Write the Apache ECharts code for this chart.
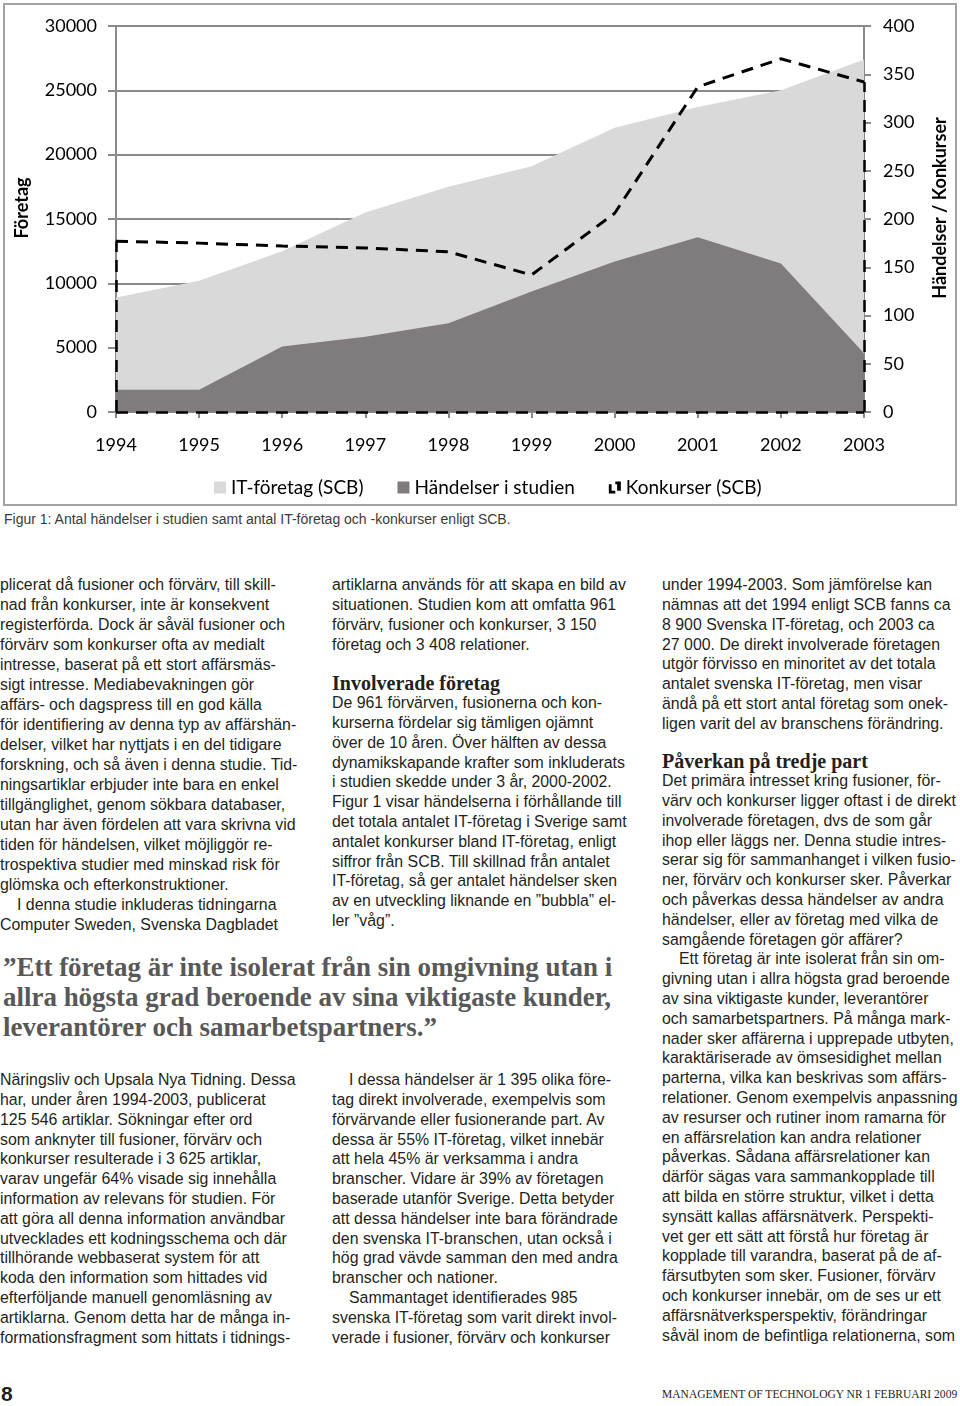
<!DOCTYPE html>
<html><head><meta charset="utf-8">
<script src="https://cdn.jsdelivr.net/npm/echarts@6/dist/echarts.min.js"></script>
<style>
html,body{margin:0;padding:0;background:#fff;}
body{width:960px;height:1406px;position:relative;overflow:hidden;}
#frame{position:absolute;left:3px;top:3px;width:954px;height:503px;box-sizing:border-box;border:2px solid #a3a3a3;}
#chart{position:absolute;left:0;top:0;width:960px;height:510px;}
.ln{position:absolute;white-space:pre;}
</style></head>
<body>
<div id="frame"></div>
<div id="chart"></div>
<script>
// ---- chart data ----
const years = ['1994','1995','1996','1997','1998','1999','2000','2001','2002','2003'];
const itForetag = [8900, 10200, 12500, 15500, 17500, 19100, 22100, 23700, 25000, 27400];
const handelser = [23, 23, 68, 78, 92, 125, 156, 181, 154, 61];
const konkurser = [177, 175, 172, 170, 166, 142, 206, 337, 366, 342];
const seriesNames = ['IT-företag (SCB)', 'Händelser i studien', 'Konkurser (SCB)'];
const leftAxisName = 'Företag';
const rightAxisName = 'Händelser / Konkurser';

// ---- page text ----
const caption = 'Figur 1: Antal händelser i studien samt antal IT-företag och -konkurser enligt SCB.';
const col1a = [
'plicerat då fusioner och förvärv, till skill-',
'nad från konkurser, inte är konsekvent',
'registerförda. Dock är såväl fusioner och',
'förvärv som konkurser ofta av medialt',
'intresse, baserat på ett stort affärsmäs-',
'sigt intresse. Mediabevakningen gör',
'affärs- och dagspress till en god källa',
'för identifiering av denna typ av affärshän-',
'delser, vilket har nyttjats i en del tidigare',
'forskning, och så även i denna studie. Tid-',
'ningsartiklar erbjuder inte bara en enkel',
'tillgänglighet, genom sökbara databaser,',
'utan har även fördelen att vara skrivna vid',
'tiden för händelsen, vilket möjliggör re-',
'trospektiva studier med minskad risk för',
'glömska och efterkonstruktioner.',
'\tI denna studie inkluderas tidningarna',
'Computer Sweden, Svenska Dagbladet'];
const col2a = [
'artiklarna används för att skapa en bild av',
'situationen. Studien kom att omfatta 961',
'förvärv, fusioner och konkurser, 3 150',
'företag och 3 408 relationer.'];
const head2 = 'Involverade företag';
const col2b = [
'De 961 förvärven, fusionerna och kon-',
'kurserna fördelar sig tämligen ojämnt',
'över de 10 åren. Över hälften av dessa',
'dynamikskapande krafter som inkluderats',
'i studien skedde under 3 år, 2000-2002.',
'Figur 1 visar händelserna i förhållande till',
'det totala antalet IT-företag i Sverige samt',
'antalet konkurser bland IT-företag, enligt',
'siffror från SCB. Till skillnad från antalet',
'IT-företag, så ger antalet händelser sken',
'av en utveckling liknande en ”bubbla” el-',
'ler ”våg”.'];
const col3a = [
'under 1994-2003. Som jämförelse kan',
'nämnas att det 1994 enligt SCB fanns ca',
'8 900 Svenska IT-företag, och 2003 ca',
'27 000. De direkt involverade företagen',
'utgör förvisso en minoritet av det totala',
'antalet svenska IT-företag, men visar',
'ändå på ett stort antal företag som onek-',
'ligen varit del av branschens förändring.'];
const head3 = 'Påverkan på tredje part';
const col3b = [
'Det primära intresset kring fusioner, för-',
'värv och konkurser ligger oftast i de direkt',
'involverade företagen, dvs de som går',
'ihop eller läggs ner. Denna studie intres-',
'serar sig för sammanhanget i vilken fusio-',
'ner, förvärv och konkurser sker. Påverkar',
'och påverkas dessa händelser av andra',
'händelser, eller av företag med vilka de',
'samgående företagen gör affärer?',
'\tEtt företag är inte isolerat från sin om-',
'givning utan i allra högsta grad beroende',
'av sina viktigaste kunder, leverantörer',
'och samarbetspartners. På många mark-',
'nader sker affärerna i upprepade utbyten,',
'karaktäriserade av ömsesidighet mellan',
'parterna, vilka kan beskrivas som affärs-',
'relationer. Genom exempelvis anpassning',
'av resurser och rutiner inom ramarna för',
'en affärsrelation kan andra relationer',
'påverkas. Sådana affärsrelationer kan',
'därför sägas vara sammankopplade till',
'att bilda en större struktur, vilket i detta',
'synsätt kallas affärsnätverk. Perspekti-',
'vet ger ett sätt att förstå hur företag är',
'kopplade till varandra, baserat på de af-',
'färsutbyten som sker. Fusioner, förvärv',
'och konkurser innebär, om de ses ur ett',
'affärsnätverksperspektiv, förändringar',
'såväl inom de befintliga relationerna, som'];
const quote = [
'”Ett företag är inte isolerat från sin omgivning utan i',
'allra högsta grad beroende av sina viktigaste kunder,',
'leverantörer och samarbetspartners.”'];
const col1b = [
'Näringsliv och Upsala Nya Tidning. Dessa',
'har, under åren 1994-2003, publicerat',
'125 546 artiklar. Sökningar efter ord',
'som anknyter till fusioner, förvärv och',
'konkurser resulterade i 3 625 artiklar,',
'varav ungefär 64% visade sig innehålla',
'information av relevans för studien. För',
'att göra all denna information användbar',
'utvecklades ett kodningsschema och där',
'tillhörande webbaserat system för att',
'koda den information som hittades vid',
'efterföljande manuell genomläsning av',
'artiklarna. Genom detta har de många in-',
'formationsfragment som hittats i tidnings-'];
const col2c = [
'\tI dessa händelser är 1 395 olika före-',
'tag direkt involverade, exempelvis som',
'förvärvande eller fusionerande part. Av',
'dessa är 55% IT-företag, vilket innebär',
'att hela 45% är verksamma i andra',
'branscher. Vidare är 39% av företagen',
'baserade utanför Sverige. Detta betyder',
'att dessa händelser inte bara förändrade',
'den svenska IT-branschen, utan också i',
'hög grad vävde samman den med andra',
'branscher och nationer.',
'\tSammantaget identifierades 985',
'svenska IT-företag som varit direkt invol-',
'verade i fusioner, förvärv och konkurser'];
const pageNo = '8';
const footer = 'MANAGEMENT OF TECHNOLOGY NR 1 FEBRUARI 2009';

// ---- text layout helpers ----
const mctx = document.createElement('canvas').getContext('2d');
function fitSize(text, family, weight, target){
  mctx.font = weight + ' 100px ' + family;
  return 100 * target / mctx.measureText(text).width;
}
const SANS = '"Liberation Sans", Arial, sans-serif';
const SERIF = '"Liberation Serif", "Times New Roman", serif';
const bodySize = fitSize('utan har även fördelen att vara skrivna vid', SANS, 'normal', 296);
const headSize = fitSize('Påverkan på tredje part', SERIF, 'bold', 206);
const quoteSize = fitSize(quote[0], SERIF, 'bold', 610);
const capSize = fitSize(caption, SANS, 'normal', 508);
const LH = 19.8;

function addLine(text, x, yc, lh, size, family, weight, color, extra){
  const d = document.createElement('div');
  d.className = 'ln';
  let indent = 0;
  if (text.startsWith('\t')) { indent = 17; text = text.slice(1); }
  d.textContent = text;
  d.style.left = (x + indent) + 'px';
  d.style.top = (yc - lh/2 - 1) + 'px';
  d.style.height = lh + 'px';
  d.style.lineHeight = lh + 'px';
  d.style.fontSize = size + 'px';
  d.style.fontFamily = family;
  d.style.fontWeight = weight;
  d.style.color = color;
  if (extra) Object.assign(d.style, extra);
  document.body.appendChild(d);
  return d;
}
function addBlock(lines, x, y0, lh){
  lines.forEach((t, i) => addLine(t, x, y0 + i*lh, lh, bodySize, SANS, 'normal', '#231f20'));
}
addLine(caption, 4, 520, 16, capSize, SANS, 'normal', '#3a3a3a');
addBlock(col1a, 0, 586, 20);
addBlock(col2a, 332, 586, LH);
addLine(head2, 332, 684, 22, headSize, SERIF, 'bold', '#231f20');
addBlock(col2b, 332, 704, LH);
addBlock(col3a, 662, 586, LH);
addLine(head3, 662, 762, 22, headSize, SERIF, 'bold', '#231f20');
addBlock(col3b, 662, 782, LH);
quote.forEach((t, i) => addLine(t, 3, 968 + i*30, 30, quoteSize, SERIF, 'bold', '#585858'));
addBlock(col1b, 0, 1081, LH);
addBlock(col2c, 332, 1081, LH);
addLine(pageNo, 1, 1395, 22, 21, '"Liberation Sans Narrow", "Liberation Sans", sans-serif', 'bold', '#231f20');
(function(){
  const fs = 11.5;
  mctx.font = 'normal ' + fs + 'px ' + SERIF;
  const w = mctx.measureText(footer).width;
  const ls = (296 - w) / (footer.length - 1);
  addLine(footer, 662, 1395, 16, fs, SERIF, 'normal', '#231f20', {letterSpacing: ls + 'px'});
})();

// ---- chart ----
const chart = echarts.init(document.getElementById('chart'), null, {renderer: 'canvas'});
const FONT = 'Lato';
const GRAY = '#8a8a8a';
const dash = [12, 8];
const last = years.length - 1;
chart.setOption({
  animation: false,
  backgroundColor: 'transparent',
  grid: {left: 116, right: 96, top: 26, bottom: 98, containLabel: false},
  legend: {
    left: 209, top: 473, itemWidth: 12, itemHeight: 12, itemGap: 34,
    textStyle: {fontFamily: FONT, fontSize: 19, color: '#000'},
    data: [
      {name: seriesNames[0], icon: 'rect'},
      {name: seriesNames[1], icon: 'rect'},
      {name: seriesNames[2], icon: 'path://M0,3 L3,3 L3,10 L7,10 L7,13 L0,13 Z M9,0 L13,0 L13,10 L9,10 L9,3 L7,3 L7,0 Z'}
    ]
  },
  xAxis: {
    type: 'category', data: years, boundaryGap: false,
    axisLine: {show: true, lineStyle: {color: GRAY, width: 2}},
    axisTick: {show: true, length: 6, lineStyle: {color: GRAY, width: 2}},
    axisLabel: {margin: 24, fontFamily: FONT, fontSize: 18, color: '#000'},
    splitLine: {show: false}
  },
  yAxis: [
    {
      type: 'value', min: 0, max: 30000, interval: 5000,
      axisLine: {show: true, lineStyle: {color: GRAY, width: 2}},
      axisTick: {show: true, length: 8, lineStyle: {color: GRAY, width: 2}},
      axisLabel: {margin: 19, fontFamily: FONT, fontSize: 18, color: '#000', formatter: v => String(v)},
      splitLine: {show: true, lineStyle: {color: GRAY, width: 2}}
    },
    {
      type: 'value', min: 0, max: 400, interval: 50, position: 'right',
      axisLine: {show: true, lineStyle: {color: GRAY, width: 2}},
      axisTick: {show: true, length: 7, lineStyle: {color: GRAY, width: 2}},
      axisLabel: {margin: 19, fontFamily: FONT, fontSize: 18, color: '#000', formatter: v => String(v)},
      splitLine: {show: false}
    }
  ],
  graphic: [
    {type: 'text', x: 22, y: 208, rotation: Math.PI/2, z: 10,
     style: {text: leftAxisName, fill: '#000', font: 'bold 18px Lato', align: 'center', verticalAlign: 'middle', textAlign: 'center', textVerticalAlign: 'middle'}},
    {type: 'text', x: 940, y: 208, rotation: Math.PI/2, z: 10,
     style: {text: rightAxisName, fill: '#000', font: 'bold 18px Lato', align: 'center', verticalAlign: 'middle', textAlign: 'center', textVerticalAlign: 'middle'}}
  ],
  series: [
    {name: seriesNames[0], type: 'line', data: itForetag, yAxisIndex: 0, symbol: 'none',
     lineStyle: {width: 0}, itemStyle: {color: '#d9d9d9'},
     areaStyle: {color: '#d9d9d9', opacity: 1}, z: 1},
    {name: seriesNames[1], type: 'line', data: handelser, yAxisIndex: 1, symbol: 'none',
     lineStyle: {width: 0}, itemStyle: {color: '#807b7c'},
     areaStyle: {color: '#807b7c', opacity: 1}, z: 2},
    {name: seriesNames[2], type: 'line', data: konkurser, yAxisIndex: 1, symbol: 'none',
     itemStyle: {color: '#000'},
     lineStyle: {color: '#000', width: 3, type: dash}, z: 3,
     markLine: {
       silent: true, symbol: ['none', 'none'], label: {show: false},
       lineStyle: {color: '#000', width: 2.5, type: dash},
       data: [
         [{coord: [years[0], 0]}, {coord: [years[0], konkurser[0]]}],
         [{coord: [years[last], 0]}, {coord: [years[last], konkurser[last]]}],
         [{coord: [years[0], 0]}, {coord: [years[last], 0]}]
       ]
     }}
  ]
});
</script>
</body></html>
